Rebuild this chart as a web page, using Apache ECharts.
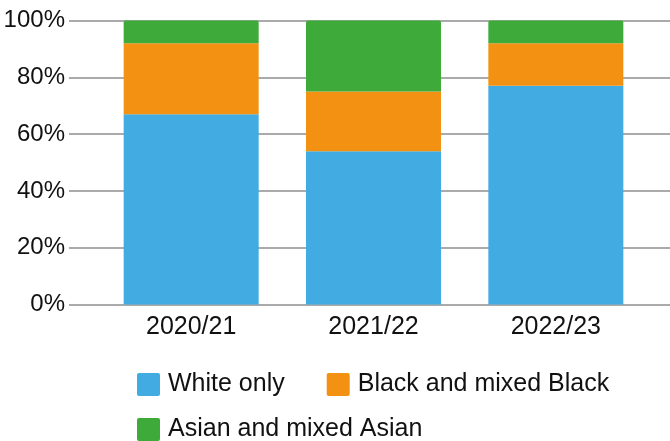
<!DOCTYPE html>
<html>
<head>
<meta charset="utf-8">
<script src="https://cdn.jsdelivr.net/npm/echarts@6/dist/echarts.min.js"></script>
<style>html,body{margin:0;padding:0;background:#fff;}#c{width:670px;height:441px;}</style>
</head>
<body>
<div id="c"></div>
<script>
const categories = ['2020/21', '2021/22', '2022/23'];
const whiteOnly = [67, 54, 77];
const blackMixed = [25, 21, 15];
const asianMixed = [8, 25, 8];
const yTicks = [0, 20, 40, 60, 80, 100];

const FONT = 'Liberation Sans';
const ICON = 'path://M2,0 H21 A2,2 0 0 1 23,2 V21 A2,2 0 0 1 21,23 H2 A2,2 0 0 1 0,21 V2 A2,2 0 0 1 2,0 Z';
const chart = echarts.init(document.getElementById('c'), null, {renderer: 'canvas'});
const legendText = {fontFamily: FONT, fontSize: 25, color: '#111', padding: [0, 0, 0, 3]};
chart.setOption({
  animation: false,
  textStyle: {fontFamily: FONT},
  grid: [
    {left: 100, right: 23, top: 20.5, bottom: 136.5},
    {left: 69, right: 0, top: 20.5, bottom: 136.5}
  ],
  legend: [
    {data: ['White only', 'Black and mixed Black'], left: 137, top: 372, itemWidth: 23, itemHeight: 23, itemGap: 42,
     icon: ICON, textStyle: legendText, padding: 0},
    {data: ['Asian and mixed Asian'], left: 137, top: 417, itemWidth: 23, itemHeight: 23,
     icon: ICON, textStyle: legendText, padding: 0}
  ],
  xAxis: [
    {type: 'category', gridIndex: 0, data: categories, axisLine: {show: false}, axisTick: {show: false},
     axisLabel: {fontFamily: FONT, fontSize: 25, color: '#111', margin: 10}},
    {type: 'category', gridIndex: 1, data: categories, show: false}
  ],
  yAxis: [
    {type: 'value', gridIndex: 0, min: 0, max: 100, interval: 20, show: false, splitLine: {show: false}},
    {type: 'value', gridIndex: 1, min: yTicks[0], max: yTicks[yTicks.length - 1], interval: 20,
     axisLine: {show: false}, axisTick: {show: false},
     axisLabel: {fontFamily: FONT, fontSize: 24, color: '#111', margin: 4, formatter: '{value}%'},
     splitLine: {show: true, lineStyle: {color: '#aaaaaa', width: 2}}}
  ],
  series: [
    {name: 'White only', type: 'bar', stack: 's', xAxisIndex: 0, yAxisIndex: 0, data: whiteOnly,
     barWidth: 135, itemStyle: {color: '#41ABE2'}},
    {name: 'Black and mixed Black', type: 'bar', stack: 's', xAxisIndex: 0, yAxisIndex: 0, data: blackMixed,
     barWidth: 135, itemStyle: {color: '#F39212'}},
    {name: 'Asian and mixed Asian', type: 'bar', stack: 's', xAxisIndex: 0, yAxisIndex: 0, data: asianMixed,
     barWidth: 135, itemStyle: {color: '#3DAA3A', borderRadius: [2, 2, 0, 0]}}
  ]
});
</script>
</body>
</html>
